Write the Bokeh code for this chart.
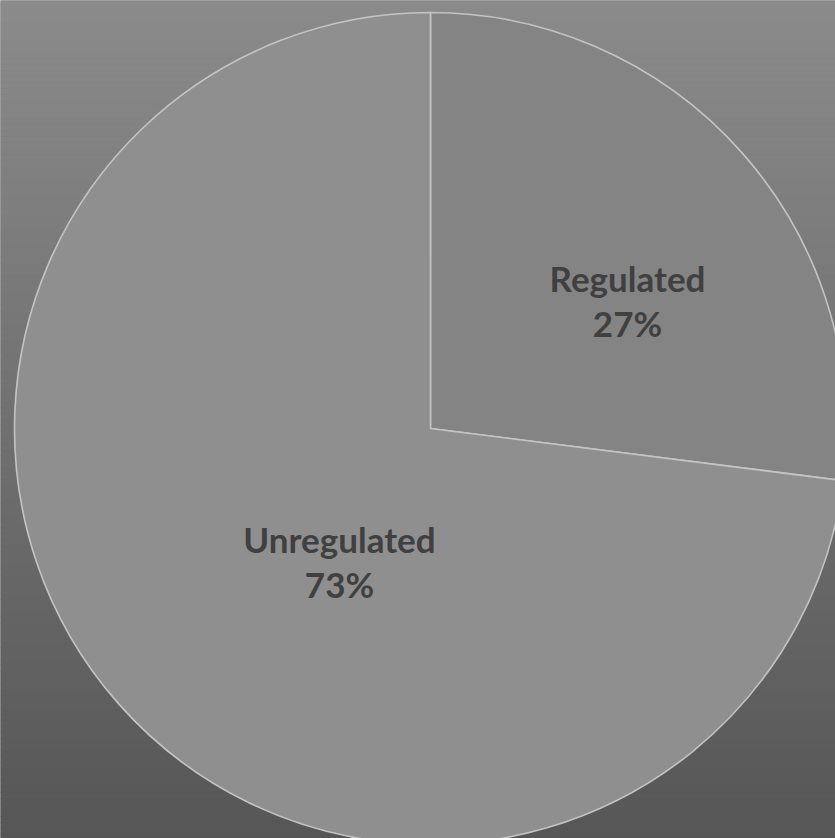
import numpy as np
from bokeh.plotting import figure
from bokeh.models import ColumnDataSource, Range1d
from bokeh.core.properties import value
from bokeh.embed import file_html
from bokeh.resources import INLINE

# --- data ---
categories = ["Regulated", "Unregulated"]
shares = [27, 73]          # percent
slice_colors = ["#848484", "#8f8f8f"]

W, H = 835, 838
CX, CY, R = 430, H - 428, 416   # pie centre and radius in canvas units

p = figure(width=W, height=H, output_backend="svg", toolbar_location=None,
           x_range=Range1d(0, W), y_range=Range1d(0, H),
           min_border=0, outline_line_color=None)
p.axis.visible = False
p.grid.visible = False
p.background_fill_color = "#707070"
p.border_fill_color = "#707070"

# backdrop: horizontal bands shading from dark grey (bottom) to lighter grey (top)
n_bands = 140
edges = np.linspace(-2, H + 2, n_bands + 1)
t = (np.arange(n_bands) + 0.5) / n_bands
levels = np.round(0x56 + (0x8b - 0x56) * t).astype(int)
band_colors = ["#{0:02x}{0:02x}{0:02x}".format(g) for g in levels]
p.quad(left=-2, right=W + 2, bottom=edges[:-1], top=edges[1:] + 0.5,
       fill_color=band_colors, line_color=None)

# --- wedges: start at 12 o'clock, run clockwise ---
fracs = np.array(shares, dtype=float) / sum(shares)
ends = np.pi / 2 - np.concatenate([[0], np.cumsum(fracs)[:-1]]) * 2 * np.pi
starts = ends - fracs * 2 * np.pi
src = ColumnDataSource(dict(cat=categories, start=starts, end=ends, color=slice_colors))
p.wedge(x=CX, y=CY, radius=R, start_angle="start", end_angle="end",
        fill_color="color", line_color="#c4c4c4", line_width=1.6, source=src)

# --- labels ---
label_x = [627, 339]
label_y = [H - 299, H - 560]
lab = ColumnDataSource(dict(x=label_x, y=label_y, name=categories,
                            pct=[f"{s}%" for s in shares]))
common = dict(text_font=value("Lato"), text_font_style="bold",
              text_font_size="35px", text_color="#404040",
              text_align="center", text_baseline="middle", source=lab)
p.text(x="x", y="y", text="name", y_offset=-22, **common)
p.text(x="x", y="y", text="pct", y_offset=23, **common)

open("out.html", "w").write(file_html(p, INLINE))
